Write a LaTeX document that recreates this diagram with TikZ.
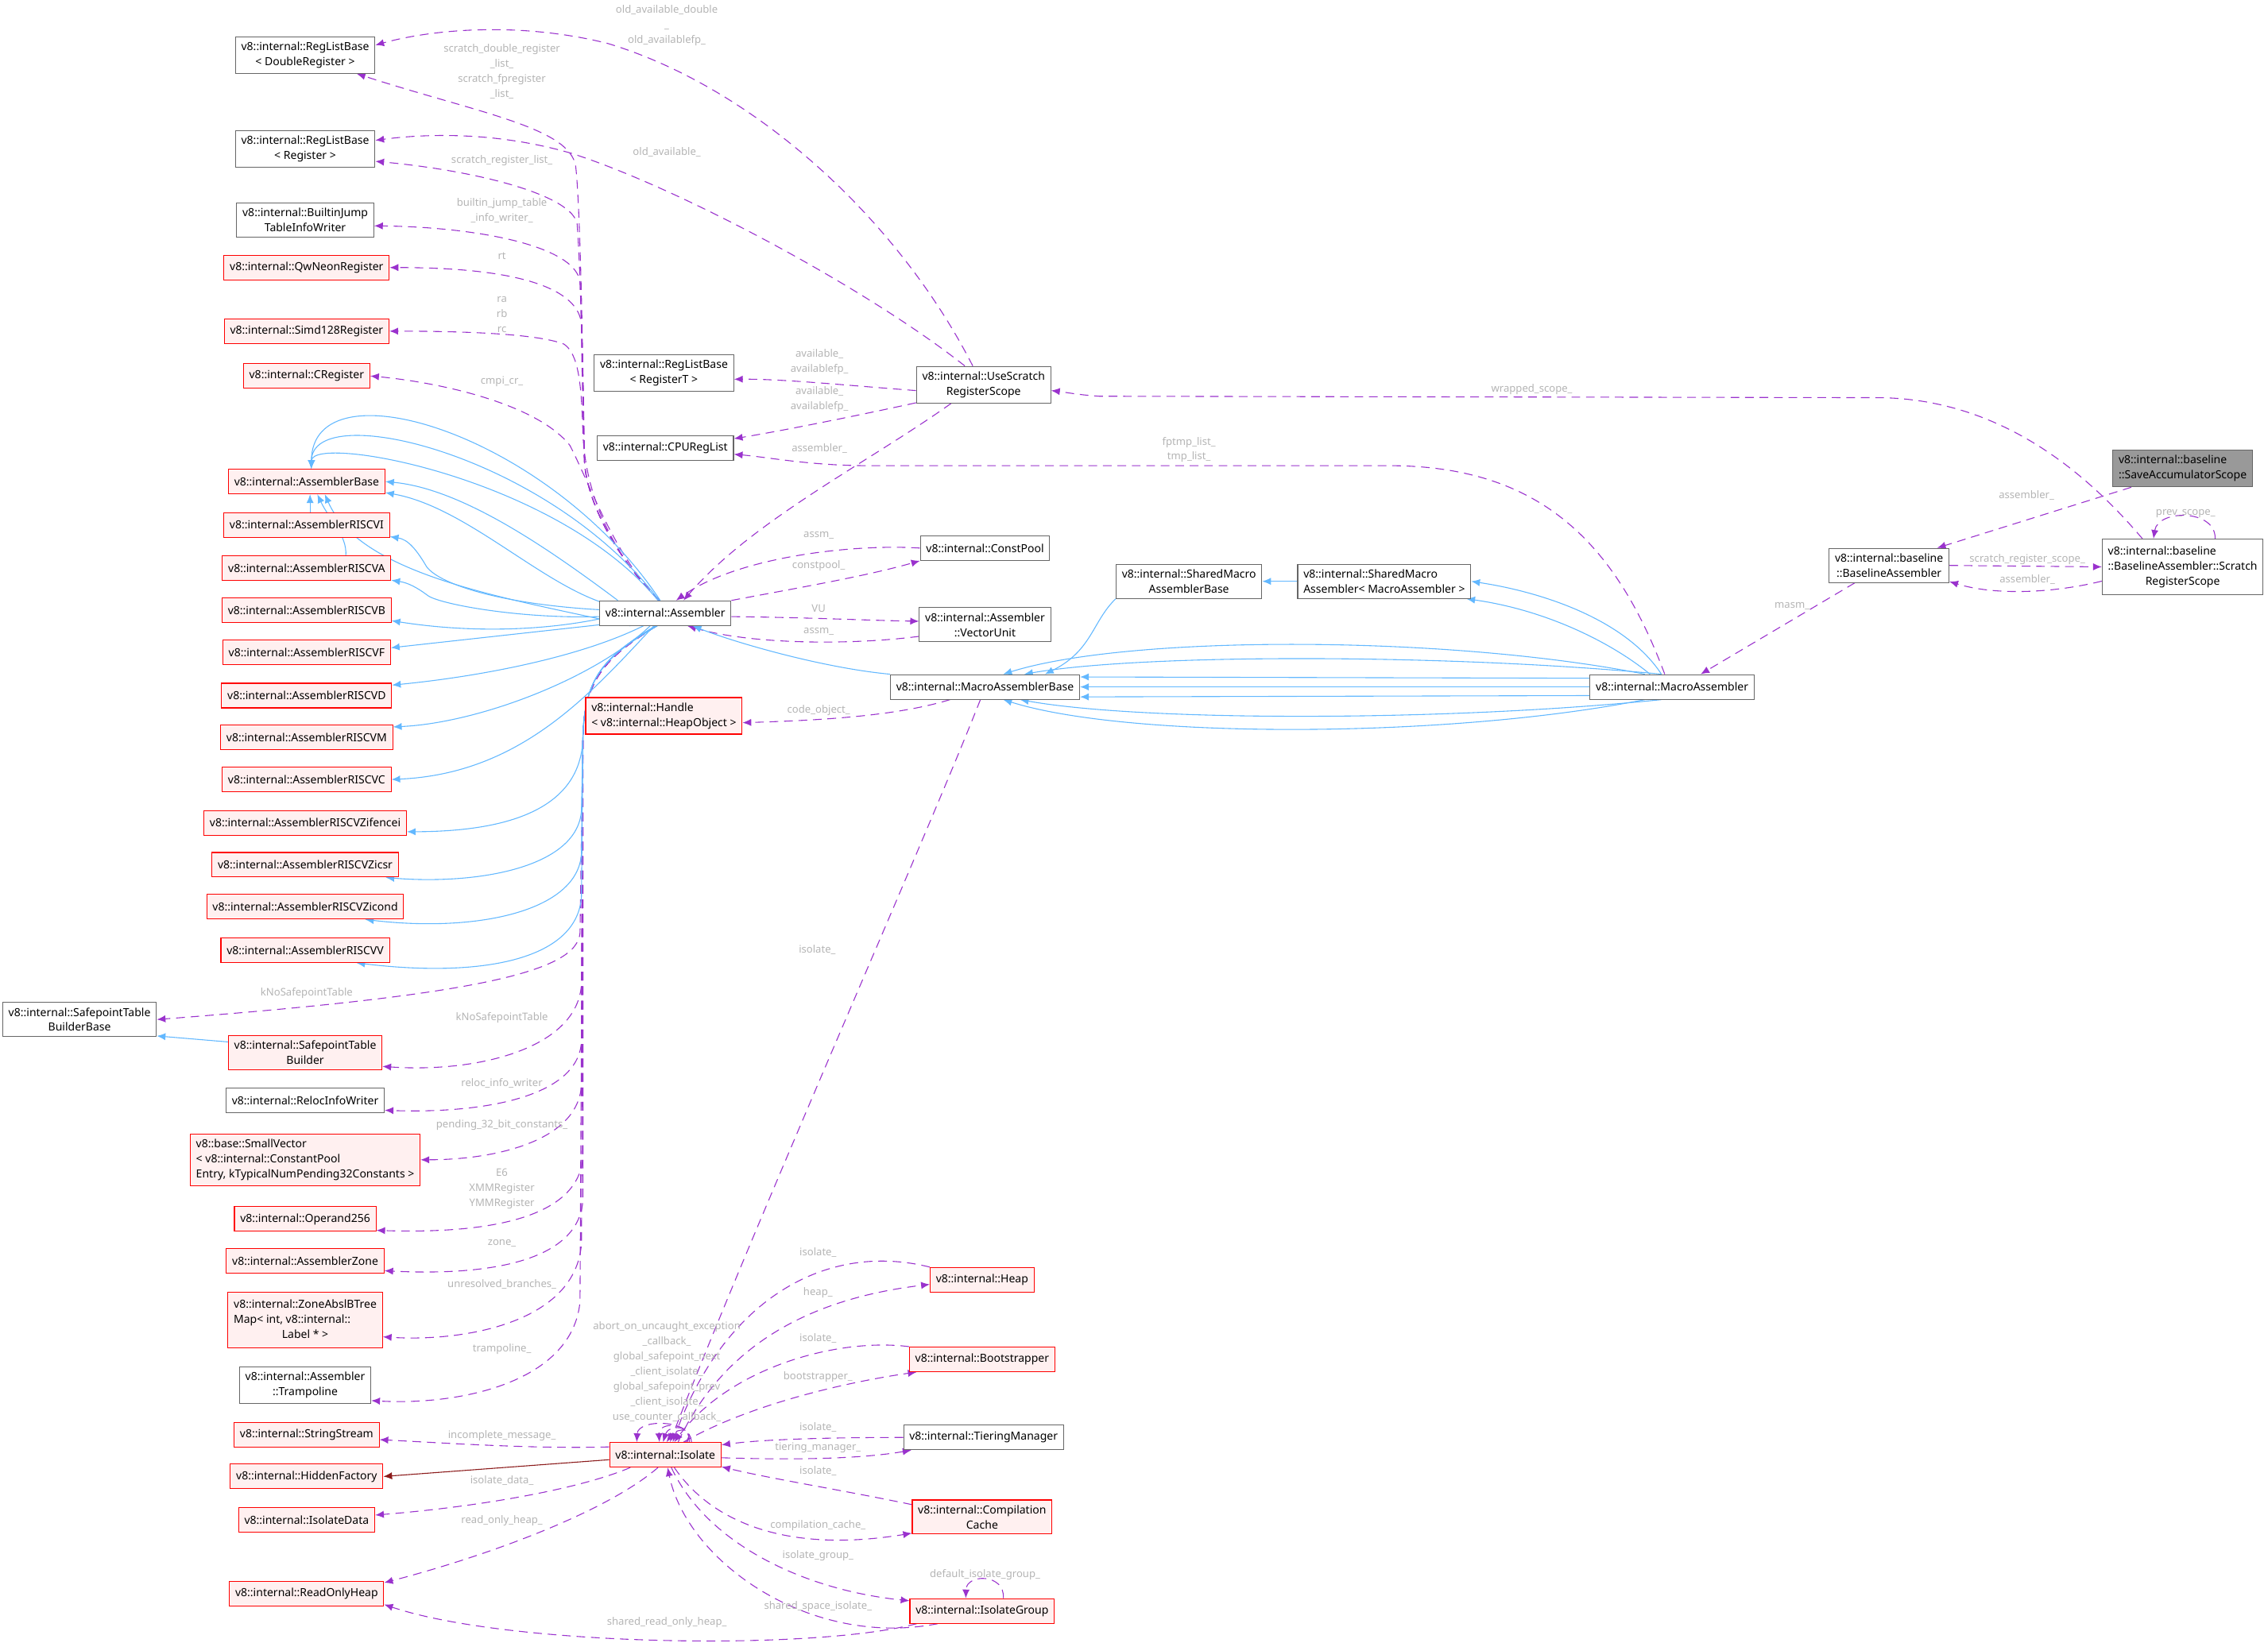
\documentclass[tikz,border=0pt]{standalone}
\usepackage{fontspec}
\setmainfont{Noto Sans}
\usetikzlibrary{arrows.meta,backgrounds}
\definecolor{usepurple}{HTML}{9A32CD}
\definecolor{inhblue}{HTML}{63B8FF}
\definecolor{privred}{HTML}{8B1A1A}
\definecolor{boxgray}{HTML}{666666}
\definecolor{undocfill}{HTML}{FFF0F0}
\definecolor{focusfill}{HTML}{999999}
\definecolor{lblgray}{HTML}{B4B4B4}

\begin{document}
\begin{tikzpicture}[x=1pt, y=-1pt,
  every node/.style={font=\fontsize{7.7}{10.4}\selectfont},
  cls/.style={draw=boxgray, fill=white, line width=0.6pt, align=center, inner xsep=4pt, inner ysep=3.6pt, minimum height=17pt},
  undoc/.style={cls, draw=red, fill=undocfill},
  focus/.style={cls, fill=focusfill},
  lbl/.style={text=lblgray, align=center, inner sep=0pt, font=\fontsize{7.2}{10.4}\selectfont},
  use/.style={draw=usepurple, line width=0.6pt, dash pattern=on 6pt off 4pt, -{Latex[length=6pt,width=5pt]}},
  inh/.style={draw=inhblue, line width=0.6pt, -{Latex[length=6pt,width=5pt]}},
  priv/.style={draw=privred, line width=0.6pt, -{Latex[length=6pt,width=5pt]}},
]
\useasboundingbox (0,0) rectangle (1568,1136);

\node[cls]   (dreg)     at (211,38)   {v8::internal::RegListBase\\< DoubleRegister >};
\node[cls]   (reg)      at (211,103)  {v8::internal::RegListBase\\< Register >};
\node[cls]   (bjt)      at (211,152)  {v8::internal::BuiltinJump\\TableInfoWriter};
\node[undoc] (qwn)      at (212,185)  {v8::internal::QwNeonRegister};
\node[undoc] (simd)     at (212,229)  {v8::internal::Simd128Register};
\node[undoc] (creg)     at (212,260)  {v8::internal::CRegister};
\node[undoc] (abase)    at (212,333)  {v8::internal::AssemblerBase};
\node[undoc] (rvi)      at (212,363)  {v8::internal::AssemblerRISCVI};
\node[undoc] (rva)      at (212,393)  {v8::internal::AssemblerRISCVA};
\node[undoc] (rvb)      at (212,422)  {v8::internal::AssemblerRISCVB};
\node[undoc] (rvf)      at (212,451)  {v8::internal::AssemblerRISCVF};
\node[undoc] (rvd)      at (212,481)  {v8::internal::AssemblerRISCVD};
\node[undoc] (rvm)      at (212,510)  {v8::internal::AssemblerRISCVM};
\node[undoc] (rvc)      at (212,539)  {v8::internal::AssemblerRISCVC};
\node[undoc] (rvzf)     at (211,569)  {v8::internal::AssemblerRISCVZifencei};
\node[undoc] (rvzcsr)   at (211,598)  {v8::internal::AssemblerRISCVZicsr};
\node[undoc] (rvzcond)  at (211,627)  {v8::internal::AssemblerRISCVZicond};
\node[undoc] (rvv)      at (211,657)  {v8::internal::AssemblerRISCVV};
\node[cls]   (stbb)     at (55,705)   {v8::internal::SafepointTable\\BuilderBase};
\node[undoc] (stb)      at (211,728)  {v8::internal::SafepointTable\\Builder};
\node[cls]   (reloc)    at (211,761)  {v8::internal::RelocInfoWriter};
\node[undoc, align=left] (smallvec) at (211,802) {v8::base::SmallVector\\< v8::internal::ConstantPool\\Entry, kTypicalNumPending32Constants >};
\node[undoc] (op256)    at (211,843)  {v8::internal::Operand256};
\node[undoc] (azone)    at (211,872)  {v8::internal::AssemblerZone};
\node[undoc] (btree)    at (211,913)  {\begin{tabular}{@{}l@{}}v8::internal::ZoneAbslBTree\\Map< int, v8::internal::\\\multicolumn{1}{@{}c@{}}{Label * >}\end{tabular}};
\node[cls]   (tramp)    at (211,958)  {v8::internal::Assembler\\::Trampoline};
\node[undoc] (sstream)  at (212,992)  {v8::internal::StringStream};
\node[undoc] (hfact)    at (212,1021) {v8::internal::HiddenFactory};
\node[undoc] (idata)    at (212,1051) {v8::internal::IsolateData};
\node[undoc] (roheap)   at (212,1102) {v8::internal::ReadOnlyHeap};

\node[cls]   (asm)      at (460,424)  {v8::internal::Assembler};
\node[undoc, align=left] (handle) at (459,495) {v8::internal::Handle\\< v8::internal::HeapObject >};
\node[undoc] (isolate)  at (460,1006) {v8::internal::Isolate};
\node[cls]   (reglt)    at (459,258)  {v8::internal::RegListBase\\< RegisterT >};
\node[cls]   (cpurl)    at (460,310)  {v8::internal::CPURegList};
\node[cls]   (usrs)     at (680,266)  {v8::internal::UseScratch\\RegisterScope};
\node[cls]   (cpool)    at (681,379)  {v8::internal::ConstPool};
\node[cls]   (vunit)    at (681,432)  {v8::internal::Assembler\\::VectorUnit};
\node[cls]   (mab)      at (681,475)  {v8::internal::MacroAssemblerBase};
\node[cls]   (smab)     at (822,402)  {v8::internal::SharedMacro\\AssemblerBase};
\node[cls, align=left] (sma) at (957,402) {v8::internal::SharedMacro\\Assembler< MacroAssembler >};
\node[cls]   (masm)     at (1156,475) {v8::internal::MacroAssembler};
\node[cls]   (bla)      at (1306,391) {v8::internal::baseline\\::BaselineAssembler};
\node[focus, align=left] (sacc) at (1509,324) {v8::internal::baseline\\::SaveAccumulatorScope};
\node[cls]   (srs)      at (1509,392) {\begin{tabular}{@{}l@{}}v8::internal::baseline\\::BaselineAssembler::Scratch\\\multicolumn{1}{@{}c@{}}{RegisterScope}\end{tabular}};
\node[undoc] (heap)     at (679,885)  {v8::internal::Heap};
\node[undoc] (boot)     at (679,940)  {v8::internal::Bootstrapper};
\node[cls]   (tier)     at (680,994)  {v8::internal::TieringManager};
\node[undoc] (ccache)   at (679,1049) {v8::internal::Compilation\\Cache};
\node[undoc] (igroup)   at (679,1114) {v8::internal::IsolateGroup};

\node[lbl] (lscrdbl)  at (347,49.5)  {scratch\_double\_register\\\_list\_\\scratch\_fpregister\\\_list\_};
\node[lbl] (lscrreg)  at (347,111)   {scratch\_register\_list\_};
\node[lbl] (lbuiltin) at (347,145.6) {builtin\_jump\_table\\\_info\_writer\_};
\node[lbl] (lrt)      at (347,177)   {rt};
\node[lbl] (lrabc)    at (347,217.5) {ra\\rb\\rc};
\node[lbl] (lcmpi)    at (347,264)   {cmpi\_cr\_};
\node[lbl] (lknst)    at (212,686.6) {kNoSafepointTable};
\node[lbl] (lknstb)   at (347,703.6) {kNoSafepointTable};
\node[lbl] (lreloc)   at (347,749)   {reloc\_info\_writer};
\node[lbl] (lpend)    at (347,778)   {pending\_32\_bit\_constants\_};
\node[lbl] (le6)      at (347,822)   {E6\\XMMRegister\\YMMRegister};
\node[lbl] (lzone)    at (347,859.6) {zone\_};
\node[lbl] (lunres)   at (347,888)   {unresolved\_branches\_};
\node[lbl] (ltramp)   at (347,933)   {trampoline\_};
\node[lbl] (lincm)    at (347,992.6) {incomplete\_message\_};
\node[lbl] (lidata)   at (347,1023.6) {isolate\_data\_};
\node[lbl] (lroh)     at (347,1051.6) {read\_only\_heap\_};
\node[lbl] (lsroh)    at (461,1122)  {shared\_read\_only\_heap\_};
\node[lbl] (lself)    at (461,948.5) {abort\_on\_uncaught\_exception\\\_callback\_\\global\_safepoint\_next\\\_client\_isolate\_\\global\_safepoint\_prev\\\_client\_isolate\_\\use\_counter\_callback\_};
\node[lbl] (loldd)    at (461,17.5)  {old\_available\_double\\\_\\old\_availablefp\_};
\node[lbl] (lold)     at (461,105)   {old\_available\_};
\node[lbl] (lavail)   at (566.5,250.5) {available\_\\availablefp\_};
\node[lbl] (lavailb)  at (566.5,276) {available\_\\availablefp\_};
\node[lbl] (lasmu)    at (566.5,310) {assembler\_};
\node[lbl] (lassm)    at (566,370)   {assm\_};
\node[lbl] (lcpool)   at (566,391)   {constpool\_};
\node[lbl] (lvu)      at (566,421)   {VU};
\node[lbl] (lassmb)   at (566,437)   {assm\_};
\node[lbl] (lcode)    at (566,491)   {code\_object\_};
\node[lbl] (lisomab)  at (565,657)   {isolate\_};
\node[lbl] (lfptmp)   at (822,311)   {fptmp\_list\_\\tmp\_list\_};
\node[lbl] (lwrapped) at (1059,269)  {wrapped\_scope\_};
\node[lbl] (lasmsa)   at (1401,342.5) {assembler\_};
\node[lbl] (lprev)    at (1511,355)  {prev\_scope\_};
\node[lbl] (lscrsc)   at (1401.6,387) {scratch\_register\_scope\_};
\node[lbl] (lasmsr)   at (1401.6,400.6) {assembler\_};
\node[lbl] (lmasm)    at (1239,419)  {masm\_};
\node[lbl] (lisoh)    at (565.5,866) {isolate\_};
\node[lbl] (lheap)    at (565.5,894) {heap\_};
\node[lbl] (lisob)    at (565.5,925.7) {isolate\_};
\node[lbl] (lboot)    at (565.5,952) {bootstrapper\_};
\node[lbl] (lisot)    at (565.5,987) {isolate\_};
\node[lbl] (ltier)    at (565.5,1001) {tiering\_manager\_};
\node[lbl] (lisoc)    at (565.5,1017) {isolate\_};
\node[lbl] (lccache)  at (565.5,1055) {compilation\_cache\_};
\node[lbl] (ligroup)  at (565.5,1076) {isolate\_group\_};
\node[lbl] (lssi)     at (565.5,1111) {shared\_space\_isolate\_};
\node[lbl] (ldig)     at (681,1089)  {default\_isolate\_group\_};

\begin{scope}[on background layer]
\draw[use] (asm.115) .. controls (425,385) and (405,345) .. (404,318) .. controls (403,240) and (401,140) .. (398,115) .. controls (394,88) and (330,78) .. (dreg.-20);
\draw[use] (asm.115) .. controls (425,385) and (405,345) .. (404,318) .. controls (403,250) and (401,180) .. (399,155) .. controls (396,135) and (330,118) .. (reg.-10);
\draw[use] (asm.115) .. controls (425,385) and (405,345) .. (404,318) .. controls (403,270) and (402,220) .. (401,195) .. controls (398,170) and (330,157) .. (bjt.-5);
\draw[use] (asm.115) .. controls (425,385) and (405,345) .. (404,318) .. controls (403,280) and (402,245) .. (402,225) .. controls (401,200) and (360,185) .. (qwn.east);
\draw[use] (asm.115) .. controls (425,385) and (405,345) .. (403,300) .. controls (402,265) and (400,245) .. (390,238) .. controls (370,230) and (310,229) .. (simd.east);
\draw[use] (asm.115) .. controls (425,385) and (408,335) .. (394,308) .. controls (370,278) and (300,264) .. (creg.east);
\draw[use] (usrs.120) .. controls (620,150) and (520,60) .. (420,30) .. controls (360,15) and (300,20) .. (dreg.8);
\draw[use] (usrs.135) .. controls (600,200) and (470,130) .. (395,106) .. controls (340,90) and (290,93) .. (reg.7);
\draw[use] (usrs.185) .. controls (580,266) and (540,262) .. (reglt.-5);
\draw[use] (usrs.-165) .. controls (590,288) and (540,298) .. (cpurl.8);
\draw[use] (usrs.-150) .. controls (600,320) and (520,360) .. (asm.35);
\draw[use] (masm.120) .. controls (1115,370) and (1060,322) .. (960,322) -- (600,322) .. controls (560,322) and (530,316) .. (cpurl.-5);
\draw[use] (cpool.west) .. controls (590,376) and (510,385) .. (asm.50);
\draw[use] (asm.north east) .. controls (560,405) and (600,398) .. (cpool.south west);
\draw[use] (asm.-3) .. controls (560,427) and (600,429) .. (vunit.177);
\draw[use] (vunit.190) .. controls (590,446) and (520,446) .. (asm.-30);
\draw[use] (mab.-160) .. controls (620,495) and (570,498) .. (handle.-5);
\draw[use] (mab.-110) .. controls (640,580) and (520,850) .. (isolate.70);
\draw[use] (asm.-125) .. controls (418,455) and (404,470) .. (403,510) -- (401,645) .. controls (399,672) and (330,688) .. (stbb.east);
\draw[use] (asm.-125) .. controls (418,455) and (404,470) .. (403,510) -- (402,680) .. controls (400,725) and (330,742) .. (stb.-10);
\draw[use] (asm.-125) .. controls (418,455) and (404,470) .. (403,510) -- (402,720) .. controls (400,760) and (330,770) .. (reloc.-7);
\draw[use] (asm.-125) .. controls (418,455) and (404,470) .. (403,510) -- (402,750) .. controls (400,790) and (340,802) .. (smallvec.east);
\draw[use] (asm.-125) .. controls (418,455) and (404,470) .. (403,510) -- (403,800) .. controls (400,845) and (330,853) .. (op256.-9);
\draw[use] (asm.-125) .. controls (418,455) and (404,470) .. (403,510) -- (403,830) .. controls (400,875) and (330,882) .. (azone.-7);
\draw[use] (asm.-125) .. controls (418,455) and (404,470) .. (403,510) -- (402,860) .. controls (398,915) and (320,928) .. (btree.-12);
\draw[use] (asm.-125) .. controls (418,455) and (404,470) .. (403,510) -- (401,900) .. controls (396,955) and (320,972) .. (tramp.-13);
\draw[use] (isolate.172) .. controls (370,1002) and (310,998) .. (sstream.-4);
\draw[priv] (isolate.-175) -- (hfact.east);
\draw[use] (isolate.-160) .. controls (400,1030) and (330,1042) .. (idata.4);
\draw[use] (isolate.-120) .. controls (420,1045) and (340,1075) .. (roheap.8);
\draw[use] (igroup.-169) .. controls (560,1142) and (350,1138) .. (roheap.-8);
\draw[use] (isolate.26) .. controls (478,981) and (441,981) .. (isolate.156);
\draw[use] (isolate.28) .. controls (478,983) and (455,983) .. (isolate.115);
\draw[use] (isolate.30) .. controls (480,985) and (462,985) .. (isolate.100);
\draw[use] (isolate.32) .. controls (482,987) and (468,987) .. (isolate.85);
\draw[use] (heap.north west) .. controls (570,858) and (500,900) .. (isolate.60);
\draw[use] (isolate.45) .. controls (500,930) and (560,898) .. (heap.-175);
\draw[use] (boot.north west) .. controls (580,925) and (505,945) .. (isolate.55);
\draw[use] (isolate.35) .. controls (520,970) and (590,955) .. (boot.-169);
\draw[use] (tier.west) .. controls (580,994) and (530,995) .. (isolate.10);
\draw[use] (isolate.-3) .. controls (560,1010) and (600,1008) .. (tier.-170);
\draw[use] (ccache.170) .. controls (580,1030) and (530,1022) .. (isolate.-12);
\draw[use] (isolate.-55) .. controls (490,1050) and (540,1075) .. (ccache.-167);
\draw[use] (isolate.-65) .. controls (490,1070) and (560,1100) .. (igroup.172);
\draw[use] (igroup.-164) .. controls (560,1140) and (475,1080) .. (isolate.-80);
\draw[use] (igroup.31) .. controls (695,1088) and (668,1088) .. (igroup.142);
\draw[use] (srs.145) .. controls (1430,312) and (1370,276) .. (1300,275) -- (760,274) .. controls (745,273) and (735,271) .. (usrs.-5);
\draw[use] (srs.41) .. controls (1532,352) and (1492,352) .. (srs.136);
\draw[use] (sacc.-160) -- (bla.20);
\draw[use] (bla.east) -- (srs.west);
\draw[use] (srs.-170) .. controls (1420,410) and (1380,412) .. (bla.-15);
\draw[use] (bla.-153) -- (masm.24);

\draw[inh] (asm.112) .. controls (380,300) and (216,250) .. (abase.70);
\draw[inh] (asm.116) .. controls (380,315) and (216,275) .. (abase.70);
\draw[inh] (asm.120) .. controls (385,330) and (216,300) .. (abase.70);
\draw[inh] (asm.165) .. controls (380,380) and (320,338) .. (abase.east);
\draw[inh] (asm.170) .. controls (370,400) and (320,350) .. (abase.-8);
\draw[inh] (asm.-160) .. controls (360,415) and (250,400) .. (abase.-35);
\draw[inh] (rvi.75) -- (abase.-75);
\draw[inh] (rva.18) .. controls (240,370) and (228,360) .. (abase.-50);
\draw[inh] (asm.177) .. controls (350,418) and (305,405) .. (295,392) .. controls (288,380) and (282,373) .. (rvi.-8);
\draw[inh] (asm.183) .. controls (360,428) and (305,418) .. (296,412) .. controls (288,406) and (282,403) .. (rva.-8);
\draw[inh] (asm.-175) .. controls (370,437) and (320,437) .. (rvb.-7);
\draw[inh] (asm.-170) -- (rvf.3);
\draw[inh] (asm.-150) .. controls (400,455) and (330,468) .. (rvd.7);
\draw[inh] (asm.-140) .. controls (410,470) and (330,500) .. (rvm.7);
\draw[inh] (asm.-132) .. controls (408,480) and (360,535) .. (rvc.east);
\draw[inh] (asm.-128) .. controls (416,455) and (404,470) .. (403,510) .. controls (402,555) and (360,575) .. (rvzf.-5);
\draw[inh] (asm.-126) .. controls (416,455) and (404,470) .. (403,510) -- (402,560) .. controls (400,600) and (330,612) .. (rvzcsr.-9);
\draw[inh] (asm.-124) .. controls (416,455) and (404,470) .. (403,510) -- (402,590) .. controls (400,630) and (330,645) .. (rvzcond.-12);
\draw[inh] (asm.-122) .. controls (416,455) and (404,470) .. (403,510) -- (402,620) .. controls (399,665) and (330,676) .. (rvv.-14);
\draw[inh] (stb.172) -- (stbb.-12);
\draw[inh] (mab.north west) .. controls (570,462) and (510,445) .. (asm.-25);
\draw[inh] (smab.south west) .. controls (755,430) and (755,450) .. (mab.12);
\draw[inh] (sma.west) -- (smab.east);
\draw[inh] (masm.130) .. controls (1125,430) and (1070,410) .. (sma.east);
\draw[inh] (masm.150) .. controls (1115,445) and (1070,422) .. (sma.-12);
\draw[inh] (masm.155) .. controls (1000,439) and (780,439) .. (mab.35);
\draw[inh] (masm.130) .. controls (1000,452) and (790,452) .. (mab.18);
\draw[inh] (masm.174) -- (mab.6);
\draw[inh] (masm.west) -- (mab.east);
\draw[inh] (masm.-174) -- (mab.-6);
\draw[inh] (masm.-130) .. controls (1000,499) and (790,499) .. (mab.-20);
\draw[inh] (masm.-155) .. controls (1000,511) and (780,511) .. (mab.-35);
\end{scope}
\end{tikzpicture}
\end{document}
